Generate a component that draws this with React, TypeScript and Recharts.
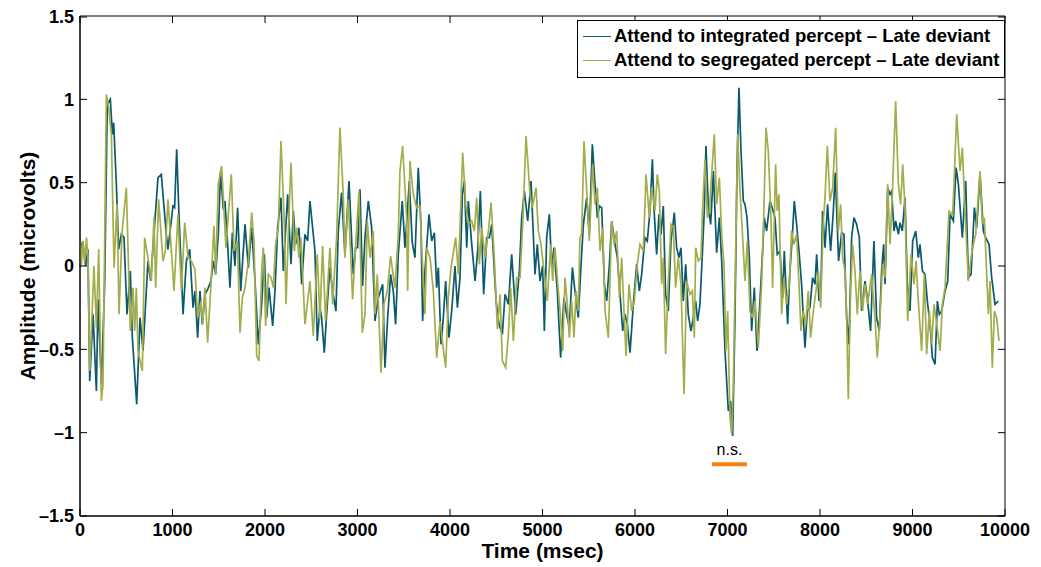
import { LineChart, Line, XAxis, YAxis, ReferenceLine, ReferenceArea } from 'recharts'

// [time in msec, amplitude in microvolts]
const integratedLate: [number, number][] = [
  [0, 0.09], [30, 0.15], [60, 0.0], [86, 0.1], [105, -0.69], [141, -0.29], [177, -0.75], [195, -0.2], [231, -0.71], [267, -0.1],
  [295, 0.97], [328, 1.0], [350, 0.79], [364, 0.86], [393, 0.49], [418, 0.1], [447, 0.19], [476, 0.17], [508, -0.29], [544, -0.03],
  [566, -0.43], [613, -0.83], [649, -0.31], [681, -0.51], [735, 0.03], [764, -0.09], [807, 0.25], [843, 0.53], [879, 0.55], [933, 0.19],
  [951, 0.1], [1005, 0.36], [1023, 0.35], [1045, 0.7], [1070, 0.31], [1114, -0.29], [1150, 0.03], [1186, 0.1], [1222, -0.25],
  [1243, -0.15], [1272, -0.43], [1297, -0.15], [1322, -0.35], [1351, -0.17], [1380, -0.14], [1416, -0.09], [1441, 0.03], [1466, -0.05],
  [1495, 0.19], [1520, 0.57], [1549, 0.34], [1567, 0.39], [1596, 0.13], [1621, -0.13], [1647, 0.2], [1675, 0.0], [1704, 0.35],
  [1737, -0.15], [1784, 0.25], [1820, -0.01], [1856, 0.23], [1892, -0.09], [1928, -0.47], [1964, -0.23], [1993, 0.07], [2018, -0.31],
  [2043, -0.13], [2083, -0.36], [2108, -0.15], [2137, 0.23], [2173, 0.41], [2198, -0.03], [2245, 0.43], [2281, 0.01], [2306, 0.33],
  [2331, 0.13], [2367, 0.23], [2396, -0.11], [2432, 0.19], [2461, 0.15],
  [2486, 0.39], [2540, 0.09], [2565, -0.45], [2594, -0.25], [2612, -0.31], [2641, -0.52], [2666, -0.29], [2702, -0.01], [2731, -0.15],
  [2767, -0.27], [2792, 0.21], [2828, 0.44], [2864, 0.07], [2908, 0.51], [2954, -0.05], [2980, 0.11], [3001, 0.11], [3027, 0.46],
  [3055, -0.12], [3081, 0.17], [3117, 0.39], [3153, 0.23], [3189, -0.33], [3225, -0.19], [3272, -0.11], [3297, -0.61], [3326, -0.31],
  [3358, -0.05], [3387, -0.15], [3412, -0.35], [3441, 0.07], [3484, 0.39], [3513, 0.11], [3538, 0.31], [3560, 0.51], [3592, 0.14],
  [3621, 0.05], [3657, 0.59], [3686, 0.25], [3704, -0.33], [3729, -0.03],
  [3773, 0.31], [3802, 0.15], [3831, 0.2], [3856, -0.13], [3874, -0.01], [3903, -0.47], [3928, -0.31], [3953, -0.09], [3989, -0.43],
  [4018, -0.27], [4054, 0.0], [4080, -0.25], [4108, -0.07], [4134, 0.43], [4155, 0.51], [4181, 0.11], [4198, 0.39], [4235, 0.13],
  [4271, -0.09], [4299, 0.09], [4328, 0.45], [4364, -0.17], [4397, 0.17], [4426, 0.17], [4451, 0.25], [4498, -0.21], [4530, -0.35],
  [4566, -0.41], [4595, -0.17], [4631, -0.23], [4667, 0.07], [4710, -0.29], [4750, -0.03], [4775, 0.29], [4804, 0.45], [4840, 0.27],
  [4876, 0.51], [4919, -0.05], [4944, 0.13], [4973, -0.09],
  [5002, 0.0], [5020, -0.39], [5045, 0.17], [5074, 0.31], [5099, -0.01], [5124, 0.11], [5160, -0.15], [5196, -0.55], [5232, -0.19],
  [5261, -0.29], [5290, -0.37], [5323, -0.01], [5351, -0.15], [5387, -0.31], [5413, -0.03], [5442, 0.25], [5478, 0.41], [5506, 0.19],
  [5539, 0.73], [5568, 0.49], [5593, 0.29], [5615, 0.36], [5640, 0.35], [5669, -0.11], [5694, -0.21], [5723, 0.01], [5748, 0.27],
  [5784, 0.13], [5809, 0.05], [5838, -0.17], [5867, -0.39], [5892, -0.29], [5917, -0.35], [5946, -0.52], [5982, -0.23], [6018, 0.01],
  [6047, -0.15], [6072, -0.05], [6108, 0.17], [6133, 0.15], [6162, 0.33], [6188, 0.64], [6205, 0.35],
  [6234, 0.07], [6259, 0.31], [6281, 0.19], [6306, 0.36], [6331, -0.17], [6360, -0.27], [6389, 0.15], [6425, 0.32], [6450, 0.11],
  [6475, 0.05], [6497, 0.11], [6522, -0.21], [6548, 0.01], [6576, -0.29], [6605, -0.39], [6630, -0.31], [6656, -0.21], [6677, -0.33],
  [6702, -0.23], [6728, 0.07], [6749, 0.33], [6767, 0.72], [6793, 0.35], [6818, 0.25], [6847, 0.57], [6883, 0.08], [6912, 0.29],
  [6937, 0.03], [6973, -0.51], [7009, -0.87], [7034, -0.81], [7056, -1.02], [7081, -0.31], [7103, 0.59], [7124, 1.07], [7146, 0.69],
  [7171, 0.39], [7189, 0.37], [7211, 0.29], [7236, 0.05], [7261, -0.39], [7290, -0.13], [7319, -0.51], [7351, -0.21], [7398, 0.29],
  [7423, 0.21], [7459, 0.39],
  [7488, 0.34], [7513, 0.29], [7538, 0.07], [7567, 0.09], [7596, -0.19], [7614, 0.09], [7650, -0.35], [7675, -0.03], [7700, 0.17],
  [7722, 0.39], [7747, 0.25], [7773, 0.09], [7801, -0.11], [7837, -0.49], [7863, -0.27], [7891, -0.25], [7920, -0.07], [7946, -0.11],
  [7964, 0.07], [7989, -0.21], [8010, -0.15], [8028, 0.33], [8054, 0.11], [8082, 0.37], [8115, 0.09], [8144, 0.33], [8165, 0.56],
  [8201, 0.03], [8234, 0.2], [8259, 0.19], [8288, -0.31], [8313, -0.47], [8342, 0.17], [8367, 0.29], [8396, 0.25], [8425, 0.17],
  [8450, -0.27], [8486, -0.09], [8511, -0.19], [8547, -0.39], [8583, 0.15], [8612, -0.31], [8641, -0.39], [8666, -0.03], [8688, 0.13],
  [8703, -0.11],
  [8732, 0.47], [8757, 0.43], [8775, 0.45], [8800, 0.21], [8818, 0.27], [8847, 0.19], [8865, 0.26], [8890, 0.21], [8919, 0.41],
  [8944, -0.11], [8973, -0.27], [9002, 0.15], [9035, 0.21], [9063, 0.05], [9081, 0.13], [9107, -0.03], [9135, -0.05], [9164, -0.23],
  [9190, -0.35], [9215, -0.55], [9244, -0.59], [9269, -0.21], [9290, -0.29], [9316, -0.27], [9352, -0.15], [9381, -0.09], [9406, 0.31],
  [9442, 0.27], [9471, 0.59], [9496, 0.49], [9539, 0.17], [9575, 0.51], [9604, -0.07], [9633, -0.05], [9669, 0.35], [9694, 0.23],
  [9730, 0.55], [9766, 0.21], [9791, 0.17], [9827, 0.13], [9856, -0.07], [9892, -0.23], [9928, -0.21],
]

const segregatedLate: [number, number][] = [
  [0, 0.15], [14, 0.0], [30, 0.15], [50, 0.02], [70, 0.17], [86, 0.05], [105, -0.63], [151, 0.0], [177, -0.37], [202, 0.1],
  [231, -0.81], [249, -0.71], [285, 1.03], [310, 0.95], [339, 0.79], [368, -0.01], [400, 0.37], [422, -0.29], [454, 0.2], [501, 0.47],
  [526, -0.03], [544, -0.39], [573, -0.13], [591, -0.39], [609, -0.13], [627, -0.51], [674, -0.63], [699, 0.17], [735, 0.05],
  [771, -0.09], [800, 0.29], [818, -0.13], [850, 0.4], [897, 0.03], [923, 0.09], [951, 0.4], [987, 0.1], [1016, -0.15], [1059, 0.31],
  [1095, -0.15], [1132, 0.26], [1168, 0.05], [1204, 0.03],
  [1243, -0.02], [1272, -0.31], [1308, -0.21], [1326, -0.35], [1351, -0.13], [1380, -0.46], [1416, -0.11], [1448, 0.24], [1466, -0.05],
  [1495, 0.49], [1531, 0.6], [1578, 0.11], [1603, 0.3], [1636, 0.55], [1665, 0.09], [1701, 0.15], [1730, -0.4], [1755, -0.19],
  [1784, -0.13], [1820, 0.03], [1856, 0.32], [1881, 0.15], [1910, -0.54], [1935, -0.57], [1964, -0.03], [1982, 0.11], [2007, -0.36],
  [2036, -0.05], [2065, -0.07], [2090, -0.13], [2115, 0.13], [2144, 0.23], [2173, 0.75], [2209, 0.25], [2227, -0.23], [2259, 0.31],
  [2281, 0.62], [2317, 0.09], [2342, 0.23], [2367, 0.05], [2389, 0.17], [2432, -0.35], [2486, -0.09],
  [2522, -0.42], [2565, 0.07], [2594, -0.32], [2623, 0.12], [2655, -0.33], [2702, 0.11], [2731, -0.23], [2774, 0.17], [2810, 0.83],
  [2846, 0.43], [2864, 0.05], [2900, 0.4], [2947, -0.2], [2983, 0.15], [3016, 0.45], [3052, -0.4], [3081, -0.29], [3106, 0.27],
  [3135, 0.05], [3171, 0.21], [3189, -0.29], [3214, -0.05], [3254, -0.64], [3286, -0.23], [3322, -0.15], [3358, 0.06], [3405, -0.13],
  [3441, 0.19], [3459, 0.57], [3488, 0.72], [3531, 0.29], [3542, -0.15], [3567, 0.63], [3603, 0.43], [3639, 0.35], [3675, 0.36],
  [3700, 0.05], [3729, -0.29],
  [3748, 0.11], [3784, 0.05], [3820, -0.15], [3856, -0.55], [3892, -0.33], [3917, -0.45], [3953, -0.61], [3982, -0.19], [4011, -0.01],
  [4062, 0.17], [4090, -0.05], [4137, 0.68], [4170, 0.37], [4198, 0.25], [4235, 0.27], [4263, 0.21], [4289, 0.41], [4317, 0.01],
  [4343, 0.23], [4379, 0.05], [4415, 0.21], [4444, 0.38], [4480, 0.04], [4512, -0.38], [4541, -0.17], [4566, -0.57], [4602, -0.61],
  [4631, -0.41], [4656, -0.13], [4685, -0.45], [4721, -0.07], [4757, -0.07], [4786, 0.25], [4822, 0.78], [4865, 0.43], [4890, 0.35],
  [4930, 0.47], [4955, 0.21], [4984, 0.13],
  [5016, -0.03], [5052, -0.21], [5088, 0.13], [5110, -0.09], [5135, 0.11], [5171, -0.15], [5196, -0.31], [5218, -0.51], [5243, -0.07],
  [5268, -0.23], [5290, -0.43], [5315, -0.21], [5341, -0.43], [5362, -0.15], [5387, -0.27], [5405, 0.17], [5423, 0.19], [5449, 0.75],
  [5478, 0.45], [5506, 0.15], [5542, 0.61], [5568, 0.37], [5593, 0.47], [5622, 0.09], [5651, 0.23], [5676, -0.27], [5712, -0.43],
  [5748, 0.27], [5773, 0.13], [5802, 0.21], [5831, -0.19], [5856, 0.05], [5881, -0.27], [5903, -0.54], [5935, -0.11], [5964, -0.27],
  [5993, -0.21], [6025, 0.01], [6054, 0.13], [6090, 0.09], [6119, 0.55], [6155, 0.29], [6180, 0.47],
  [6216, 0.33], [6241, 0.55], [6263, 0.45], [6288, -0.11], [6306, 0.05], [6331, -0.53], [6360, -0.09], [6389, 0.25], [6414, 0.23],
  [6439, -0.13], [6468, 0.05], [6497, -0.11], [6530, -0.77], [6558, -0.09], [6594, -0.17], [6620, -0.15], [6641, -0.43], [6656, 0.11],
  [6684, 0.03], [6713, 0.05], [6731, 0.35], [6757, 0.64], [6782, 0.29], [6803, 0.33], [6829, 0.55], [6857, 0.79], [6883, 0.37],
  [6912, 0.53], [6937, 0.19], [6962, 0.01], [6984, -0.51], [7002, -0.27], [7027, -0.91], [7045, -1.01], [7063, -0.71], [7088, 0.09],
  [7110, 0.79], [7135, 0.45], [7160, 0.21], [7189, -0.09], [7214, 0.15], [7243, -0.27], [7268, -0.31], [7297, -0.21], [7333, -0.49],
  [7369, -0.11], [7391, 0.29], [7416, 0.83], [7441, 0.69], [7470, 0.29], [7488, -0.13], [7520, 0.61],
  [7538, 0.33], [7556, 0.43], [7585, -0.29], [7610, -0.07], [7639, -0.23], [7668, -0.11], [7693, 0.21], [7718, 0.13], [7747, 0.19],
  [7776, -0.15], [7794, -0.39], [7819, -0.27], [7845, -0.35], [7873, -0.15], [7899, -0.43], [7928, -0.27], [7956, -0.15], [7982, -0.03],
  [8007, -0.25], [8036, 0.27], [8054, 0.41], [8079, 0.72], [8108, 0.39], [8137, 0.47], [8169, 0.83], [8198, 0.21], [8223, 0.37],
  [8245, 0.05], [8270, -0.03], [8288, -0.31], [8306, -0.8], [8331, -0.15], [8353, 0.13], [8378, -0.03], [8403, -0.29], [8432, -0.03],
  [8461, -0.27], [8486, -0.11], [8515, -0.23], [8558, -0.05], [8594, -0.31], [8619, -0.55], [8648, -0.31], [8677, 0.01], [8702, -0.07],
  [8732, 0.49], [8757, 0.13], [8782, 0.43], [8818, 0.99], [8847, 0.49], [8872, 0.37], [8894, 0.61], [8919, 0.35], [8948, -0.33],
  [8984, 0.07], [9016, -0.11], [9038, 0.03], [9063, -0.21], [9099, -0.51], [9128, -0.05], [9153, -0.53], [9182, -0.27], [9208, -0.47],
  [9233, -0.23], [9262, -0.35], [9298, -0.51], [9323, -0.23], [9352, -0.13], [9395, 0.33], [9435, 0.31], [9478, 0.91], [9514, 0.57],
  [9539, 0.71], [9568, 0.33], [9604, -0.09], [9633, 0.05], [9658, 0.13], [9683, 0.19], [9730, 0.57], [9755, 0.25], [9777, 0.29],
  [9820, -0.29], [9838, -0.09], [9863, -0.61], [9885, -0.27], [9910, -0.31], [9935, -0.45],
]

const timeTicks = [0, 1000, 2000, 3000, 4000, 5000, 6000, 7000, 8000, 9000, 10000]
const ampTicks = [-1.5, -1, -0.5, 0, 0.5, 1, 1.5]

// significance marker under the 7000 ms deflection
const nsStart = 6832
const nsEnd = 7211
const nsLevel = -1.19

const seriesNames = [
  'Attend to integrated percept \u2013 Late deviant',
  'Attend to segregated percept \u2013 Late deviant',
]
const seriesColors = ['#0b5a6c', '#a4ad4c']

const toPoints = (rows: [number, number][]) => rows.map(([t, v]) => ({ t, v }))

const FONT = '"Liberation Sans", Arial, Helvetica, sans-serif'
const W = 1025
const H = 559
// plot box in chart coordinates
const LEFT = 72
const RIGHT = 997
const TOP = 8
const BOTTOM = 508
const TICK = 7

const fmt = (v: number) => String(v).replace('-', '\u2013')

// MATLAB-style inward ticks on both the bottom and the top edge
const BottomTick = (p: any) => (
  <g>
    <line x1={p.x} x2={p.x} y1={BOTTOM} y2={BOTTOM - TICK} stroke="#000" />
    <line x1={p.x} x2={p.x} y1={TOP} y2={TOP + TICK} stroke="#000" />
    <text x={p.x} y={BOTTOM + 7} dy="0.71em" textAnchor="middle" fontFamily={FONT} fontWeight="bold" fontSize={18} fill="#000">
      {p.payload.value}
    </text>
  </g>
)

// inward ticks on the left and right edge
const LeftTick = (p: any) => (
  <g>
    <line x1={LEFT} x2={LEFT + TICK} y1={p.y} y2={p.y} stroke="#000" />
    <line x1={RIGHT} x2={RIGHT - TICK} y1={p.y} y2={p.y} stroke="#000" />
    <text x={LEFT - 6} y={p.y} dy="0.36em" textAnchor="end" fontFamily={FONT} fontWeight="bold" fontSize={18} fill="#000">
      {fmt(p.payload.value)}
    </text>
  </g>
)

const LegendBox = () => (
  <div
    style={{
      position: 'absolute',
      top: 12,
      left: 569,
      border: '1px solid #000',
      background: '#fff',
      padding: '3px 4px 5px 5px',
      fontFamily: FONT,
      fontWeight: 'bold',
      fontSize: 18.5,
      color: '#000',
    }}
  >
    {seriesNames.map((name, i) => (
      <div key={name} style={{ display: 'flex', alignItems: 'center', height: 24, whiteSpace: 'nowrap' }}>
        <span style={{ display: 'inline-block', width: 28, height: 0, borderTop: `1.5px solid ${seriesColors[i]}`, marginRight: 3 }} />
        {name}
      </div>
    ))}
  </div>
)

export default function App() {
  return (
    <div style={{ position: 'relative', width: W, height: H, background: '#fff' }}>
      <LineChart width={W} height={H} margin={{ top: TOP, right: W - RIGHT, left: 0, bottom: 0 }}>
        <XAxis
          type="number"
          dataKey="t"
          domain={[0, 10000]}
          ticks={timeTicks}
          height={H - BOTTOM}
          stroke="#000"
          tickLine={false}
          tick={<BottomTick />}
          label={{ value: 'Time (msec)', position: 'center', dy: 9, fontFamily: FONT, fontWeight: 'bold', fontSize: 21, fill: '#000' }}
        />
        <YAxis
          type="number"
          domain={[-1.5, 1.5]}
          ticks={ampTicks}
          width={LEFT}
          stroke="#000"
          tickLine={false}
          tick={<LeftTick />}
          label={{ value: 'Amplitude (microvolts)', angle: -90, position: 'center', dx: -16, fontFamily: FONT, fontWeight: 'bold', fontSize: 21, fill: '#000' }}
        />
        <ReferenceArea x1={0} x2={10000} y1={-1.5} y2={1.5} fill="none" stroke="#000" strokeOpacity={1} />
        <Line
          data={toPoints(integratedLate)}
          dataKey="v"
          name={seriesNames[0]}
          type="linear"
          stroke={seriesColors[0]}
          strokeWidth={1.7}
          dot={false}
          isAnimationActive={false}
        />
        <Line
          data={toPoints(segregatedLate)}
          dataKey="v"
          name={seriesNames[1]}
          type="linear"
          stroke={seriesColors[1]}
          strokeWidth={1.7}
          dot={false}
          isAnimationActive={false}
        />
        <ReferenceLine
          segment={[{ x: nsStart, y: nsLevel }, { x: nsEnd, y: nsLevel }]}
          stroke="#f7820f"
          strokeWidth={4}
          label={{ value: 'n.s.', position: 'top', offset: 9, fontFamily: FONT, fontSize: 16, fill: '#000' }}
        />
      </LineChart>
      <LegendBox />
    </div>
  )
}
